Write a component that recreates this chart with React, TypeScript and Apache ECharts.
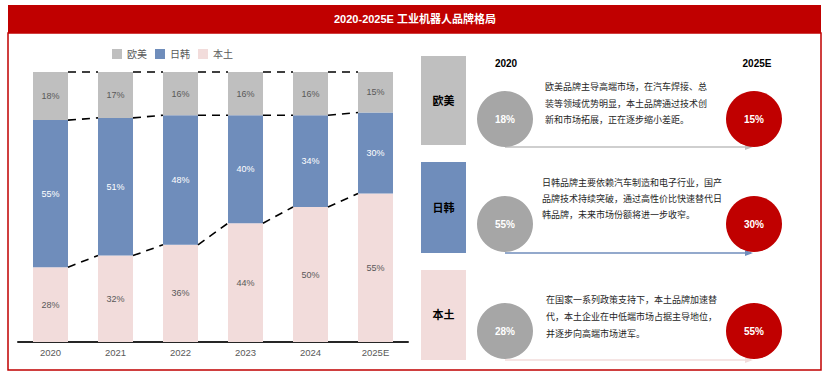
import React, { useEffect, useRef } from "react";
import * as echarts from "echarts";

const categories = ["2020", "2021", "2022", "2023", "2024", "2025E"];
const euUs = [18, 17, 16, 16, 16, 15];
const jpKr = [55, 51, 48, 40, 34, 30];
const local = [28, 32, 36, 44, 50, 55];
const seriesNames = ["欧美", "日韩", "本土"];
const title = "2020-2025E 工业机器人品牌格局";
const startLabel = "2020";
const endLabel = "2025E";
const descEu = ["欧美品牌主导高端市场，在汽车焊接、总", "装等领域优势明显，本土品牌通过技术创", "新和市场拓展，正在逐步缩小差距。"];
const descJk = ["日韩品牌主要依赖汽车制造和电子行业，国产", "品牌技术持续突破，通过高性价比快速替代日", "韩品牌，未来市场份额将进一步收窄。"];
const descLocal = ["在国家一系列政策支持下，本土品牌加速替", "代，本土企业在中低端市场占据主导地位，", "并逐步向高端市场进军。"];

const FONT = '"Liberation Sans", "Noto Sans CJK SC", sans-serif';
const C_GRAY = "#BFBFBF";
const C_BLUE = "#6F8DBB";
const C_PINK = "#F2DCDB";
const C_RED = "#C00000";

export default function App() {
  const ref = useRef<HTMLDivElement>(null);
  useEffect(() => {
    if (!ref.current) return;
    const chart = echarts.init(ref.current, null, { renderer: "svg" });
    const totals = categories.map((_, i) => euUs[i] + jpKr[i] + local[i]);
    const norm = (arr: number[]) => arr.map((v, i) => (v / totals[i]) * 100);
    const nLocal = norm(local);
    const nJk = norm(jpKr);
    const nEu = norm(euUs);
    const BAR_W = 35;

    const mkBar = (name: string, data: number[], raw: number[], color: string, labelColor: string) => ({
      name,
      type: "bar",
      stack: "total",
      barWidth: BAR_W,
      data,
      itemStyle: { color },
      label: {
        show: true,
        position: "inside",
        color: labelColor,
        fontSize: 9,
        fontFamily: FONT,
        formatter: (p: any) => raw[p.dataIndex] + "%",
      },
      silent: true,
    });

    const rows = [
      { name: seriesNames[0], color: C_GRAY, arrow: "#BFBFBF", box: [56, 89], cy: 119, arrowY: 147, desc: descEu, dx: 545, dy: 87, dsp: 16.5, start: euUs[0], end: euUs[5] },
      { name: seriesNames[1], color: C_BLUE, arrow: C_BLUE, box: [162, 91], cy: 224, arrowY: 253, desc: descJk, dx: 542, dy: 183, dsp: 16, start: jpKr[0], end: jpKr[5] },
      { name: seriesNames[2], color: C_PINK, arrow: "#F2DCDB", box: [270, 90], cy: 331, arrowY: 360, desc: descLocal, dx: 546, dy: 300, dsp: 17, start: local[0], end: local[5] },
    ];

    const graphics: any[] = [
      { type: "rect", shape: { x: 8, y: 5, width: 813, height: 28 }, style: { fill: C_RED }, z: 10 },
      { type: "text", x: 415, y: 19, style: { text: title, fill: "#fff", font: `bold 11px ${FONT}`, align: "center", verticalAlign: "middle" }, z: 11 },
      { type: "rect", shape: { x: 8, y: 33, width: 813, height: 337 }, style: { fill: "none", stroke: C_RED, lineWidth: 1.5 }, z: 10 },
      { type: "text", x: 506, y: 63, style: { text: startLabel, fill: "#000", font: `bold 10px ${FONT}`, align: "center", verticalAlign: "middle" } },
      { type: "text", x: 757, y: 63, style: { text: endLabel, fill: "#000", font: `bold 10px ${FONT}`, align: "center", verticalAlign: "middle" } },
    ];
    rows.forEach((r) => {
      graphics.push({ type: "rect", shape: { x: 421, y: r.box[0], width: 45, height: r.box[1] }, style: { fill: r.color } });
      graphics.push({ type: "text", x: 443.5, y: r.box[0] + r.box[1] / 2, style: { text: r.name, fill: "#000", font: `bold 11px ${FONT}`, align: "center", verticalAlign: "middle" } });
      graphics.push({ type: "line", shape: { x1: 505, y1: r.arrowY, x2: 751, y2: r.arrowY }, style: { stroke: r.arrow, lineWidth: 1.5 } });
      graphics.push({ type: "polygon", shape: { points: [[745, r.arrowY - 3], [753, r.arrowY], [745, r.arrowY + 3]] }, style: { fill: r.arrow } });
      graphics.push({ type: "circle", shape: { cx: 505, cy: r.cy, r: 28 }, style: { fill: "#A6A6A6" }, z: 2 });
      graphics.push({ type: "text", x: 505, y: r.cy, style: { text: r.start + "%", fill: "#fff", font: `bold 10px ${FONT}`, align: "center", verticalAlign: "middle" }, z: 3 });
      graphics.push({ type: "circle", shape: { cx: 754, cy: r.cy, r: 28 }, style: { fill: C_RED }, z: 2 });
      graphics.push({ type: "text", x: 754, y: r.cy, style: { text: r.end + "%", fill: "#fff", font: `bold 10px ${FONT}`, align: "center", verticalAlign: "middle" }, z: 3 });
      r.desc.forEach((line, k) => {
        graphics.push({ type: "text", x: r.dx, y: r.dy + k * r.dsp, style: { text: line, fill: "#262626", font: `9px ${FONT}`, align: "left", verticalAlign: "middle" } });
      });
    });

    chart.setOption({
      animation: false,
      textStyle: { fontFamily: FONT },
      legend: {
        data: seriesNames,
        left: 107,
        top: 44,
        itemWidth: 10,
        itemHeight: 10,
        itemGap: 8,
        icon: "rect",
        textStyle: { fontSize: 10, color: "#595959", fontFamily: FONT },
        selectedMode: false,
      },
      grid: { left: 18, right: 422, top: 72, bottom: 35 },
      xAxis: {
        type: "category",
        data: categories,
        axisLine: { lineStyle: { color: "#262626", width: 2 } },
        axisTick: { show: false },
        axisLabel: { color: "#595959", fontSize: 9.5, margin: 6, fontFamily: FONT },
      },
      yAxis: { type: "value", min: 0, max: 100, show: false, splitLine: { show: false } },
      series: [
        mkBar(seriesNames[2], nLocal, local, C_PINK, "#595959"),
        mkBar(seriesNames[1], nJk, jpKr, C_BLUE, "#ffffff"),
        mkBar(seriesNames[0], nEu, euUs, C_GRAY, "#595959"),
        {
          type: "custom",
          silent: true,
          z: 5,
          data: categories.slice(0, -1).map((_, i) => [i, 0]),
          encode: { x: 0, y: 1 },
          renderItem: (params: any, api: any) => {
            const i = api.value(0);
            const b1 = [nLocal[i], nLocal[i] + nJk[i], 100];
            const b2 = [nLocal[i + 1], nLocal[i + 1] + nJk[i + 1], 100];
            const children = b1.map((v, k) => {
              const p1 = api.coord([i, v]);
              const p2 = api.coord([i + 1, b2[k]]);
              return {
                type: "line",
                shape: { x1: p1[0] + BAR_W / 2, y1: p1[1], x2: p2[0] - BAR_W / 2, y2: p2[1] },
                style: { stroke: "#000", lineWidth: 1.6, lineDash: [8, 6] },
              };
            });
            return { type: "group", children };
          },
        },
      ],
      graphic: graphics,
    });
    return () => chart.dispose();
  }, []);
  return <div ref={ref} style={{ position: "fixed", left: 0, top: 0, width: 830, height: 377, background: "#fff" }} />;
}
